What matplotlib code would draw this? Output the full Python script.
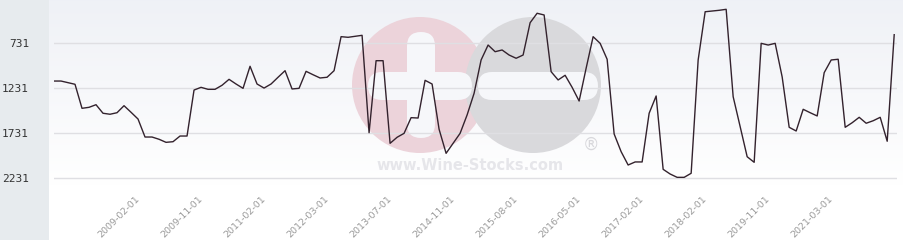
import numpy as np
import matplotlib
matplotlib.use('Agg')
import matplotlib.pyplot as plt
from matplotlib.patches import Circle, FancyBboxPatch, Rectangle

# ── DATA (rank, lower is better) ─────────────────────────────────────────────
ranks = [1150, 1150, 1168, 1186, 1453, 1442, 1413, 1508, 1519, 1502,
         1424, 1497, 1572, 1772, 1772, 1797, 1831, 1824, 1761, 1761,
         1250, 1220, 1242, 1242, 1197, 1131, 1183, 1231, 986, 1183,
         1228, 1183, 1108, 1035, 1238, 1231, 1042, 1080, 1116, 1108,
         1035, 657, 664, 653, 642, 1724, 924, 924, 1842, 1775,
         1731, 1557, 1561, 1142, 1183, 1686, 1953, 1842, 1731, 1527,
         1286, 916, 750, 824, 805, 861, 897, 861, 502, 397,
         416, 1046, 1138, 1086, 1220, 1372, 1008, 657, 731, 908,
         1738, 1935, 2083, 2049, 2049, 1508, 1316, 2131, 2183, 2220,
         2220, 2175, 916, 380, 372, 364, 353, 1324, 1657, 1991,
         2053, 731, 750, 731, 1105, 1664, 1705, 1464, 1502, 1538,
         1057, 916, 908, 1664, 1613, 1553, 1619, 1591, 1553, 1819,
         635]
tick_labels = ['2009-02-01', '2009-11-01', '2011-02-01', '2012-03-01',
               '2013-07-01', '2014-11-01', '2015-08-01', '2016-05-01',
               '2017-02-01', '2018-02-01', '2019-11-01', '2021-03-01']
y_ticks = [731, 1231, 1731, 2231]

W, H = 904, 240
fig = plt.figure(figsize=(W / 100, H / 100), dpi=100)

# ── background: gradient + grey left panel ──────────────────────────────────
bg = fig.add_axes([0, 0, 1, 1], zorder=0)
grad = np.linspace(0, 1, 256).reshape(-1, 1)
top = np.array([0.937, 0.945, 0.965])
bot = np.array([1.0, 1.0, 1.0])
img = top + (bot - top) * np.clip(grad * 1.3, 0, 1)[:, :, None]
bg.imshow(img.reshape(256, 1, 3), aspect='auto', extent=[0, W, H, 0])
bg.add_patch(Rectangle((0, 0), 49, H, color='#e7ebee', lw=0))
bg.set_xlim(0, W)
bg.set_ylim(H, 0)

# watermark
pink = '#ecd3da'
grey = '#d9d9dc'
bg.add_patch(Circle((420, 85), 68, color=pink, lw=0))
bg.add_patch(Circle((533, 85), 68, color=grey, lw=0))
wm_white = '#f6f7fa'
bg.add_patch(FancyBboxPatch((368, 72), 104, 28, boxstyle='round,pad=0,rounding_size=14',
                            color=wm_white, lw=0))
bg.add_patch(FancyBboxPatch((407, 32), 28, 106, boxstyle='round,pad=0,rounding_size=14',
                            color=wm_white, lw=0))
bg.add_patch(FancyBboxPatch((478, 72), 120, 28, boxstyle='round,pad=0,rounding_size=14',
                            color=wm_white, lw=0))
bg.text(470, 166, 'www.Wine-Stocks.com', ha='center', va='center', fontsize=10.5,
        fontweight='bold', color='#e6e6ea')
bg.text(591, 145, '®', ha='center', va='center', fontsize=12, color='#d8d8dc')
bg.axis('off')

# ── chart ───────────────────────────────────────────────────────────────────
ax = fig.add_axes([54 / W, 1 - 188 / H, 843 / W, 188 / H], zorder=1)
ax.patch.set_alpha(0)
x = np.arange(len(ranks))
ax.plot(x, ranks, color='#33222d', lw=1.0)

ax.set_xlim(0, 120.4)
ax.set_ylim(731 + (188 - 43.33) * 500 / 45, 731 - 43.33 * 500 / 45)

ax.set_yticks(y_ticks)
ax.set_yticklabels([str(v) for v in y_ticks], family='DejaVu Sans Mono',
                   fontsize=8, color='#333333')
ax.yaxis.grid(True, color='#dfdfe3', lw=1)
ax.tick_params(axis='y', length=0, pad=18)

tick_pos = np.arange(12, 12 + 9 * len(tick_labels), 9)
ax.set_xticks(tick_pos)
ax.set_xticklabels(tick_labels, rotation=45, ha='right', va='center',
                   rotation_mode='anchor', fontsize=6.8, color='#9a9a9a')
ax.tick_params(axis='x', length=0, pad=7)

for s in ax.spines.values():
    s.set_visible(False)

fig.savefig('out.png', dpi=100)
